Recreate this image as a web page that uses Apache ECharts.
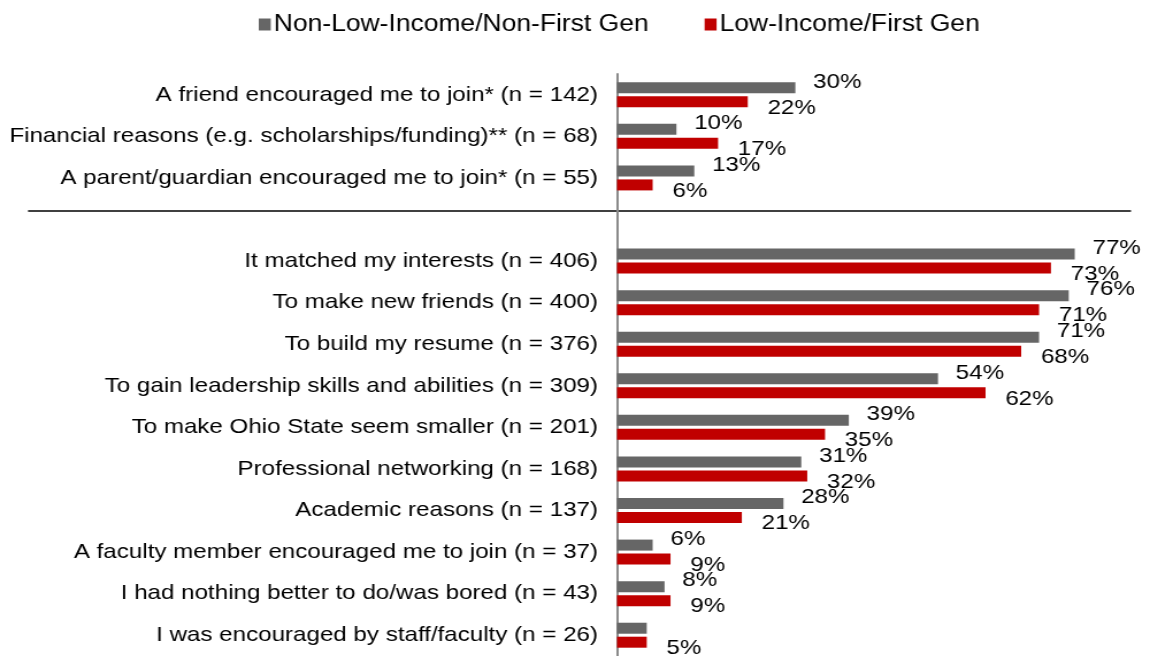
<!DOCTYPE html>
<html>
<head>
<meta charset="utf-8">
<script src="https://cdn.jsdelivr.net/npm/echarts@6/dist/echarts.min.js"></script>
<style>
  html, body { margin: 0; padding: 0; background: #fff; overflow: hidden; }
  #wrap { width: 1155px; height: 656px; overflow: hidden; }
  /* the chart is laid out narrower and widened, giving the wide Arial look */
  #chart { height: 656px; transform-origin: 0 0; }
</style>
</head>
<body>
<div id="wrap"><div id="chart"></div></div>
<script>
// Reasons for joining a student organization, by student group (% of respondents)
const categories = [
  'A friend encouraged me to join* (n = 142)',
  'Financial reasons (e.g. scholarships/funding)** (n = 68)',
  'A parent/guardian encouraged me to join* (n = 55)',
  '',
  'It matched my interests (n = 406)',
  'To make new friends (n = 400)',
  'To build my resume (n = 376)',
  'To gain leadership skills and abilities (n = 309)',
  'To make Ohio State seem smaller (n = 201)',
  'Professional networking (n = 168)',
  'Academic reasons (n = 137)',
  'A faculty member encouraged me to join (n = 37)',
  'I had nothing better to do/was bored (n = 43)',
  'I was encouraged by staff/faculty (n = 26)'
];
const seriesNames = ['Non-Low-Income/Non-First Gen', 'Low-Income/First Gen'];
const nonLowIncome = [30, 10, 13, null, 77, 76, 71, 54, 39, 31, 28, 6, 8, 5];
const lowIncome    = [22, 17, 6,  null, 73, 71, 68, 62, 35, 32, 21, 9, 9, 5];
// bars whose value label is not printed (gray bar of the last row)
const hiddenGrayLabels = [13];

const FONT = "'Liberation Sans', Arial, sans-serif";
const W = 1155;
const SX = 1.15;               // horizontal widening factor
const x = px => px / SX;       // page x -> chart x

const el = document.getElementById('chart');
el.style.width = x(W) + 'px';
el.style.transform = 'scaleX(' + SX + ')';

function withLabels(values, hidden) {
  return values.map((v, i) => hidden.includes(i) ? { value: v, label: { show: false } } : v);
}

const chart = echarts.init(el, null, { renderer: 'canvas' });

chart.setOption({
  animation: false,
  backgroundColor: '#ffffff',
  textStyle: { fontFamily: FONT },
  legend: {
    top: 8,
    left: x(253),
    itemWidth: x(12),
    itemHeight: 12,
    itemGap: x(56),
    icon: 'rect',
    textStyle: { fontFamily: FONT, fontSize: 23, color: '#000', padding: [0, 0, 0, -2.4] },
    data: seriesNames
  },
  grid: { left: x(617), top: 74, width: x(535), height: 587 },
  xAxis: {
    type: 'value',
    min: 0,
    max: 90,
    show: false
  },
  yAxis: {
    type: 'category',
    inverse: true,
    data: categories,
    axisTick: { show: false },
    axisLine: { show: true, lineStyle: { color: '#8a8a8a', width: 2 } },
    axisLabel: { color: '#000', fontSize: 21, fontFamily: FONT, margin: x(19) }
  },
  series: [
    {
      name: seriesNames[0],
      type: 'bar',
      barWidth: 11,
      barGap: '27%',
      itemStyle: { color: '#666666' },
      label: {
        show: true, position: 'right', offset: [x(12), -6],
        formatter: '{c}%', color: '#000', fontSize: 21, fontFamily: FONT
      },
      data: withLabels(nonLowIncome, hiddenGrayLabels)
    },
    {
      name: seriesNames[1],
      type: 'bar',
      barWidth: 11,
      itemStyle: { color: '#c00000' },
      label: {
        show: true, position: 'right', offset: [x(14), 6],
        formatter: '{c}%', color: '#000', fontSize: 21, fontFamily: FONT
      },
      data: withLabels(lowIncome, [])
    }
  ],
  graphic: [
    {
      // divider between the two groups of reasons
      type: 'line',
      shape: { x1: x(28), y1: 211, x2: x(1131), y2: 211 },
      style: { stroke: '#000', lineWidth: 1.5 }
    }
  ]
});
</script>
</body>
</html>
